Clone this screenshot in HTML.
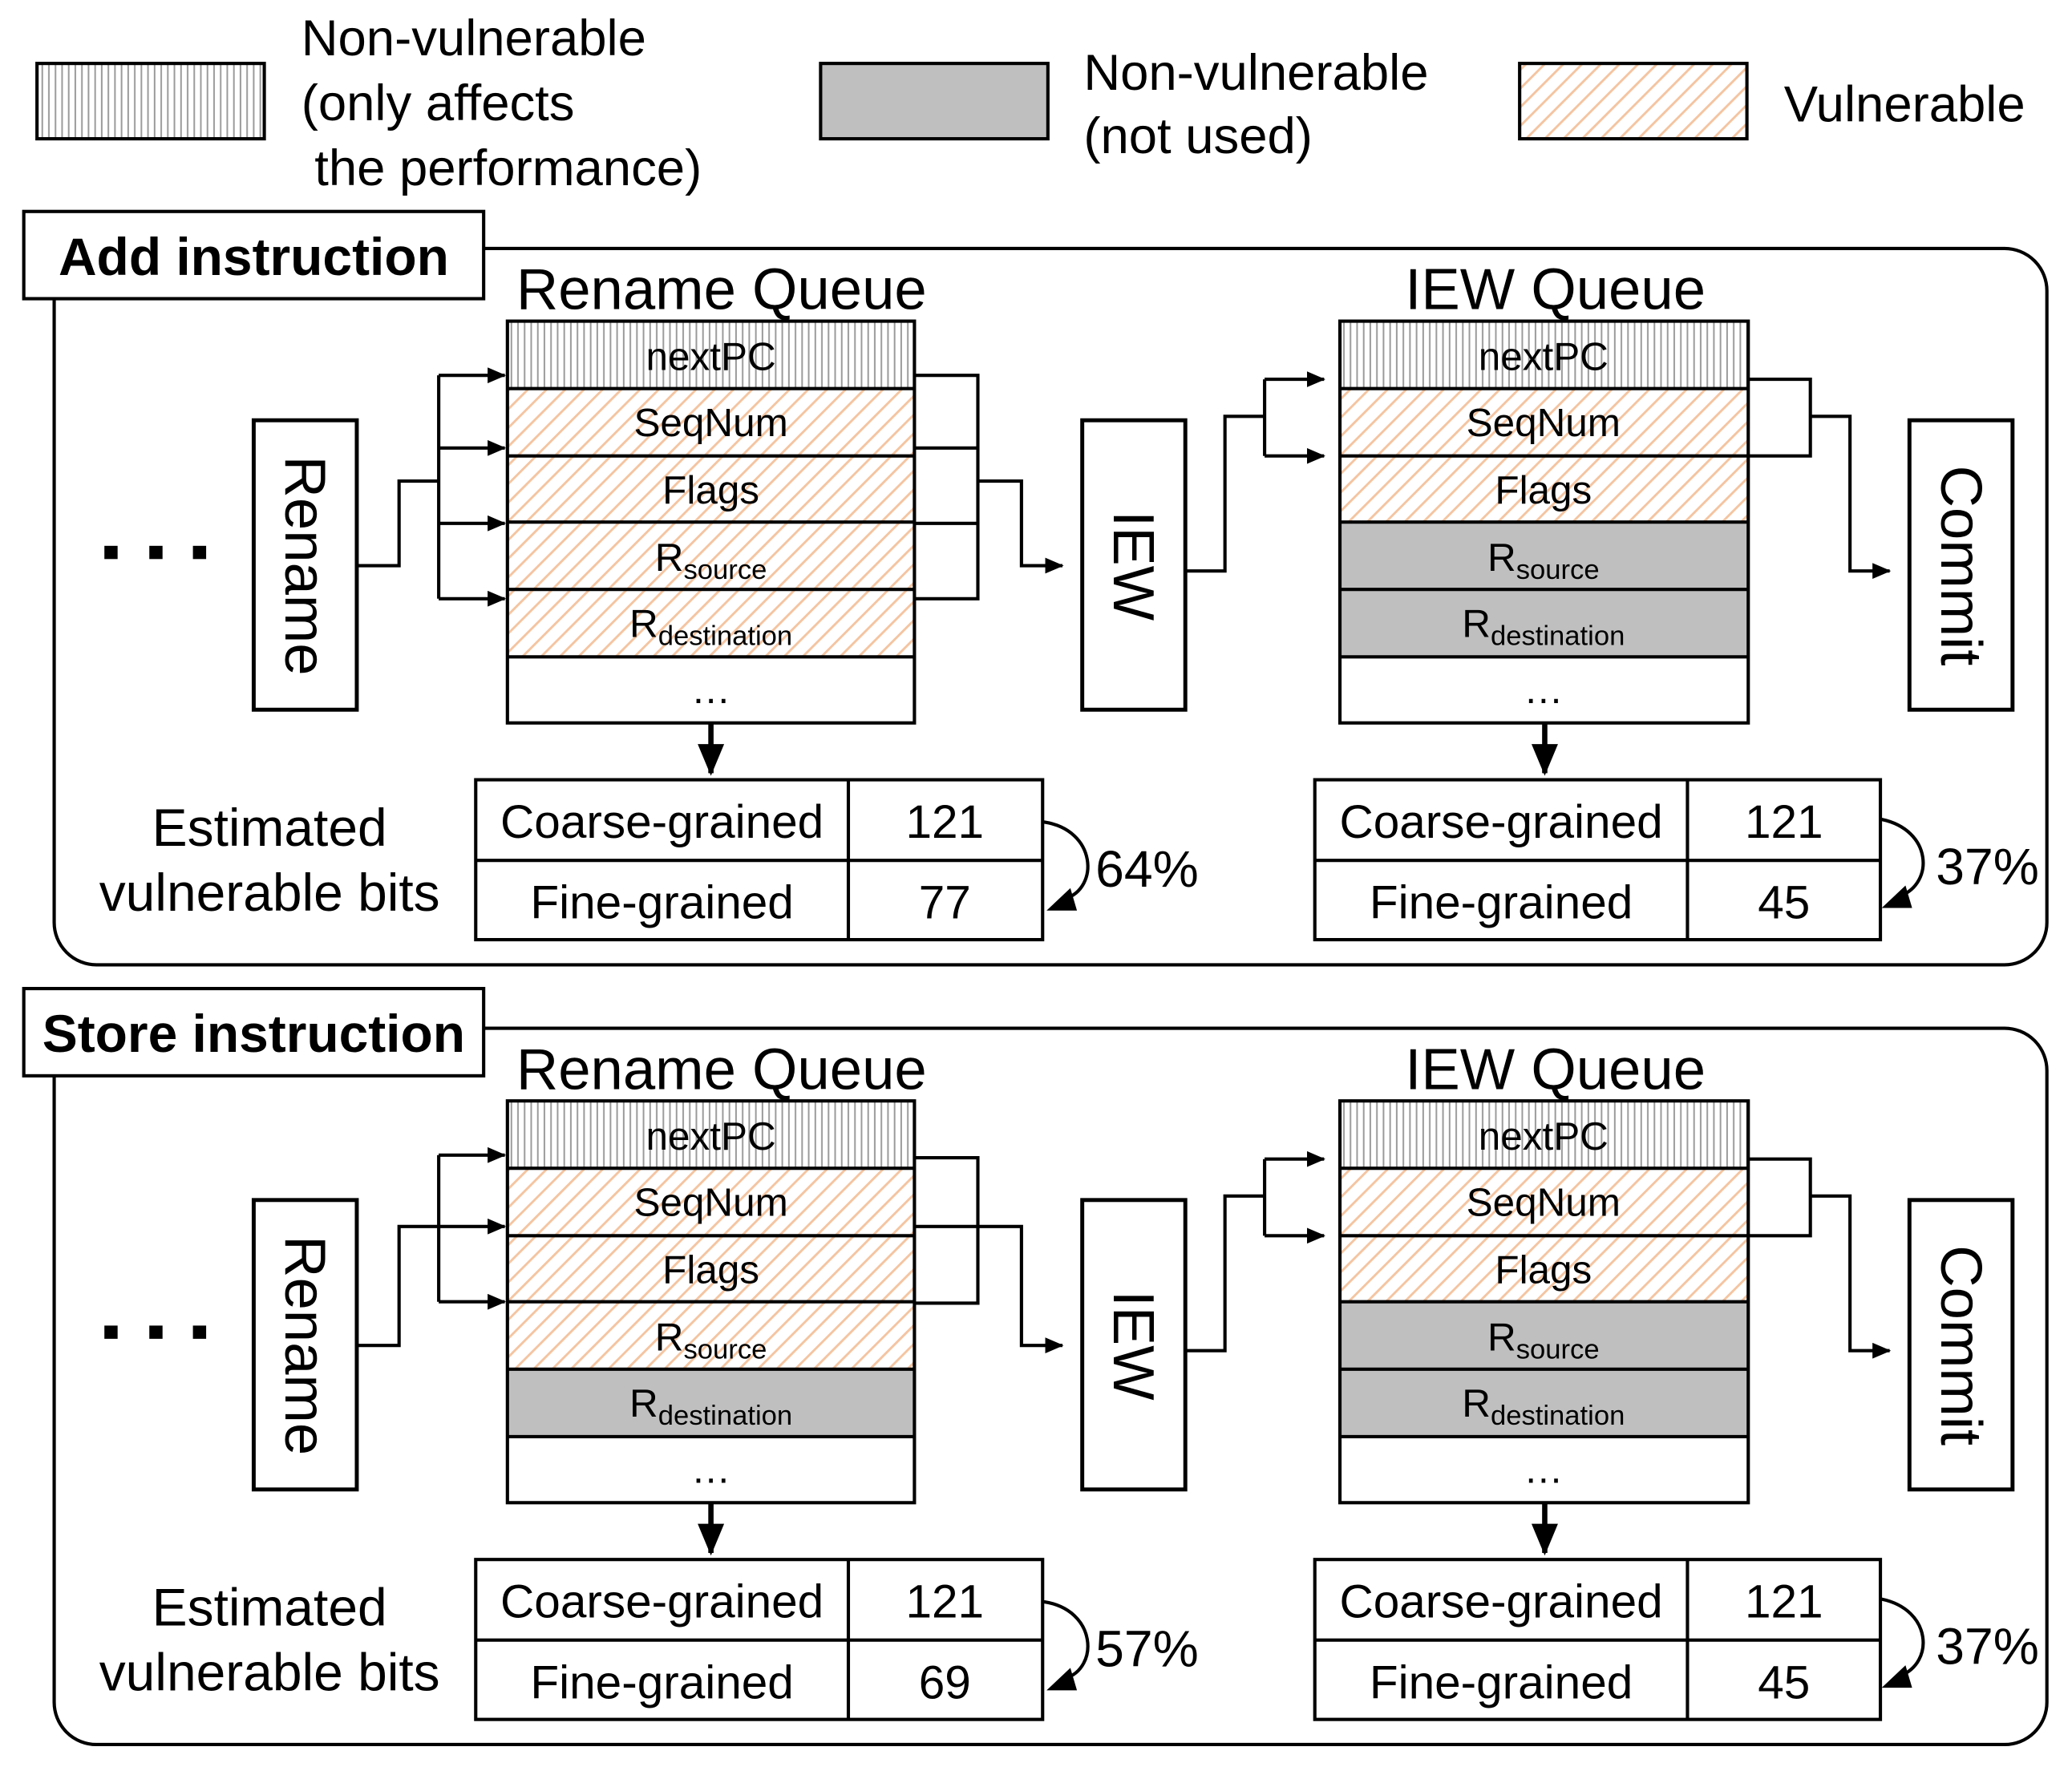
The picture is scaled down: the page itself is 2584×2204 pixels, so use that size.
<!DOCTYPE html>
<html><head><meta charset="utf-8"><style>
html,body{margin:0;padding:0;background:#fff}
svg{display:block}
text{font-family:"Liberation Sans",Arial,sans-serif;fill:#000}
</style></head><body>
<svg width="2584" height="2204" viewBox="0 0 1568 1337" preserveAspectRatio="none" xmlns="http://www.w3.org/2000/svg">
<defs>
<pattern id="vh" width="5" height="10" patternUnits="userSpaceOnUse"><rect width="5" height="10" fill="#fff"/><line x1="2" y1="0" x2="2" y2="10" stroke="#9a9a9a" stroke-width="1.2"/></pattern>
<pattern id="oh" width="10" height="10" patternUnits="userSpaceOnUse" patternTransform="rotate(45)"><rect width="10" height="10" fill="#fff"/><line x1="0" y1="0" x2="0" y2="10" stroke="#f4c4a0" stroke-width="3.5"/></pattern>
<marker id="ar" markerWidth="14" markerHeight="12" refX="13" refY="6" orient="auto" markerUnits="userSpaceOnUse"><path d="M0,0 L14,6 L0,12 z" fill="#000"/></marker>
</defs>

<!-- legend -->
<rect x="28" y="48" width="172" height="57" fill="url(#vh)" stroke="#000" stroke-width="2.5"/>
<text x="228" y="42" font-size="38.5">Non-vulnerable</text>
<text x="228" y="91" font-size="38.5">(only affects</text>
<text x="238" y="140" font-size="38.5">the performance)</text>
<rect x="621" y="48" width="172" height="57" fill="#bfbfbf" stroke="#000" stroke-width="2.5"/>
<text x="820" y="68" font-size="38.5">Non-vulnerable</text>
<text x="820" y="116" font-size="38.5">(not used)</text>
<rect x="1150" y="48" width="172" height="57" fill="url(#oh)" stroke="#000" stroke-width="2.5"/>
<text x="1350" y="92" font-size="38.5">Vulnerable</text>

<g id="p1">
<rect x="41" y="188" width="1508" height="542" rx="32" fill="none" stroke="#000" stroke-width="2.5"/>
<rect x="18" y="160" width="348" height="66" fill="#fff" stroke="#000" stroke-width="2.5"/>
<text x="192" y="208" font-size="40" font-weight="bold" text-anchor="middle">Add instruction</text>
<text x="546" y="234" font-size="44" text-anchor="middle">Rename Queue</text>
<text x="1177" y="234" font-size="44" text-anchor="middle">IEW Queue</text>
<rect x="384" y="243" width="308" height="51" fill="url(#vh)"/>
<rect x="384" y="294" width="308" height="203" fill="url(#oh)"/>
<rect x="384" y="243" width="308" height="304" fill="none" stroke="#000" stroke-width="2.5"/>
<g stroke="#000" stroke-width="2.5"><line x1="384" y1="294" x2="692" y2="294"/><line x1="384" y1="345" x2="692" y2="345"/><line x1="384" y1="395" x2="692" y2="395"/><line x1="384" y1="446" x2="692" y2="446"/><line x1="384" y1="497" x2="692" y2="497"/></g>
<g font-size="30" text-anchor="middle">
<text x="538" y="280">nextPC</text><text x="538" y="330">SeqNum</text><text x="538" y="381">Flags</text>
<text x="538" y="432">R<tspan font-size="21" dy="6">source</tspan></text>
<text x="538" y="482">R<tspan font-size="21" dy="6">destination</tspan></text>
<text x="538" y="532">…</text>
</g>
<rect x="1014" y="243" width="309" height="51" fill="url(#vh)"/>
<rect x="1014" y="294" width="309" height="101" fill="url(#oh)"/>
<rect x="1014" y="395" width="309" height="102" fill="#bfbfbf"/>
<rect x="1014" y="243" width="309" height="304" fill="none" stroke="#000" stroke-width="2.5"/>
<g stroke="#000" stroke-width="2.5"><line x1="1014" y1="294" x2="1323" y2="294"/><line x1="1014" y1="345" x2="1323" y2="345"/><line x1="1014" y1="395" x2="1323" y2="395"/><line x1="1014" y1="446" x2="1323" y2="446"/><line x1="1014" y1="497" x2="1323" y2="497"/></g>
<g font-size="30" text-anchor="middle">
<text x="1168" y="280">nextPC</text><text x="1168" y="330">SeqNum</text><text x="1168" y="381">Flags</text>
<text x="1168" y="432">R<tspan font-size="21" dy="6">source</tspan></text>
<text x="1168" y="482">R<tspan font-size="21" dy="6">destination</tspan></text>
<text x="1168" y="532">…</text>
</g>
<rect x="79" y="413" width="10" height="10"/><rect x="113" y="413" width="10" height="10"/><rect x="146" y="413" width="10" height="10"/>
<rect x="192" y="318" width="78" height="219" fill="#fff" stroke="#000" stroke-width="3"/>
<text transform="translate(216,428) rotate(90)" font-size="44" text-anchor="middle">Rename</text>
<rect x="819" y="318" width="78" height="219" fill="#fff" stroke="#000" stroke-width="3"/>
<text transform="translate(843,428) rotate(90)" font-size="44" text-anchor="middle">IEW</text>
<rect x="1445" y="318" width="78" height="219" fill="#fff" stroke="#000" stroke-width="3"/>
<text transform="translate(1469,428) rotate(90)" font-size="44" text-anchor="middle">Commit</text>
<g fill="none" stroke="#000" stroke-width="2.5">
<polyline points="270,428 302,428 302,364 332,364"/>
<line x1="332" y1="284" x2="332" y2="453"/>
<line x1="332" y1="284" x2="382" y2="284" marker-end="url(#ar)"/>
<line x1="332" y1="339" x2="382" y2="339" marker-end="url(#ar)"/>
<line x1="332" y1="396" x2="382" y2="396" marker-end="url(#ar)"/>
<line x1="332" y1="453" x2="382" y2="453" marker-end="url(#ar)"/>
<polyline points="692,284 740,284 740,453 692,453"/>
<line x1="692" y1="339" x2="740" y2="339"/>
<line x1="692" y1="396" x2="740" y2="396"/>
<polyline points="740,364 773,364 773,428 804,428" marker-end="url(#ar)"/>
<polyline points="897,432 927,432 927,315 957,315"/>
<line x1="957" y1="287" x2="957" y2="345"/>
<line x1="957" y1="287" x2="1002" y2="287" marker-end="url(#ar)"/>
<line x1="957" y1="345" x2="1002" y2="345" marker-end="url(#ar)"/>
<polyline points="1323,287 1370,287 1370,345 1323,345"/>
<polyline points="1370,315 1400,315 1400,432 1430,432" marker-end="url(#ar)"/>
</g>
<line x1="538" y1="547" x2="538" y2="585" stroke="#000" stroke-width="4"/>
<path d="M528,563 L548,563 L538,587 z"/>
<line x1="1169" y1="547" x2="1169" y2="585" stroke="#000" stroke-width="4"/>
<path d="M1159,563 L1179,563 L1169,587 z"/>
<g fill="none" stroke="#000" stroke-width="2.5">
<rect x="360" y="590" width="429" height="121"/><line x1="642" y1="590" x2="642" y2="711"/><line x1="360" y1="651" x2="789" y2="651"/>
<rect x="995" y="590" width="428" height="121"/><line x1="1277" y1="590" x2="1277" y2="711"/><line x1="995" y1="651" x2="1423" y2="651"/>
<path d="M790,622 C830,628 832,672 806,680"/>
<path d="M1424,620 C1462,628 1464,668 1438,678"/>
</g>
<path d="M810,672 L792,689 L815,689 z"/>
<path d="M1442,670 L1424,687 L1447,687 z"/>
<g font-size="35.5" text-anchor="middle">
<text x="501" y="634">Coarse-grained</text><text x="715" y="634">121</text>
<text x="501" y="695">Fine-grained</text><text x="715" y="695">77</text>
<text x="1136" y="634">Coarse-grained</text><text x="1350" y="634">121</text>
<text x="1136" y="695">Fine-grained</text><text x="1350" y="695">45</text>
</g>
<g font-size="40" text-anchor="middle">
<text x="204" y="640">Estimated</text><text x="204" y="689">vulnerable bits</text>
</g>
<text x="829" y="671" font-size="39">64%</text>
<text x="1465" y="669" font-size="39">37%</text>
</g>

<g id="p2" transform="translate(0,590)">
<rect x="41" y="188" width="1508" height="542" rx="32" fill="none" stroke="#000" stroke-width="2.5"/>
<rect x="18" y="158" width="348" height="66" fill="#fff" stroke="#000" stroke-width="2.5"/>
<text x="192" y="206" font-size="40" font-weight="bold" text-anchor="middle">Store instruction</text>
<text x="546" y="234" font-size="44" text-anchor="middle">Rename Queue</text>
<text x="1177" y="234" font-size="44" text-anchor="middle">IEW Queue</text>
<rect x="384" y="243" width="308" height="51" fill="url(#vh)"/>
<rect x="384" y="294" width="308" height="152" fill="url(#oh)"/>
<rect x="384" y="446" width="308" height="51" fill="#bfbfbf"/>
<rect x="384" y="243" width="308" height="304" fill="none" stroke="#000" stroke-width="2.5"/>
<g stroke="#000" stroke-width="2.5"><line x1="384" y1="294" x2="692" y2="294"/><line x1="384" y1="345" x2="692" y2="345"/><line x1="384" y1="395" x2="692" y2="395"/><line x1="384" y1="446" x2="692" y2="446"/><line x1="384" y1="497" x2="692" y2="497"/></g>
<g font-size="30" text-anchor="middle">
<text x="538" y="280">nextPC</text><text x="538" y="330">SeqNum</text><text x="538" y="381">Flags</text>
<text x="538" y="432">R<tspan font-size="21" dy="6">source</tspan></text>
<text x="538" y="482">R<tspan font-size="21" dy="6">destination</tspan></text>
<text x="538" y="532">…</text>
</g>
<rect x="1014" y="243" width="309" height="51" fill="url(#vh)"/>
<rect x="1014" y="294" width="309" height="101" fill="url(#oh)"/>
<rect x="1014" y="395" width="309" height="102" fill="#bfbfbf"/>
<rect x="1014" y="243" width="309" height="304" fill="none" stroke="#000" stroke-width="2.5"/>
<g stroke="#000" stroke-width="2.5"><line x1="1014" y1="294" x2="1323" y2="294"/><line x1="1014" y1="345" x2="1323" y2="345"/><line x1="1014" y1="395" x2="1323" y2="395"/><line x1="1014" y1="446" x2="1323" y2="446"/><line x1="1014" y1="497" x2="1323" y2="497"/></g>
<g font-size="30" text-anchor="middle">
<text x="1168" y="280">nextPC</text><text x="1168" y="330">SeqNum</text><text x="1168" y="381">Flags</text>
<text x="1168" y="432">R<tspan font-size="21" dy="6">source</tspan></text>
<text x="1168" y="482">R<tspan font-size="21" dy="6">destination</tspan></text>
<text x="1168" y="532">…</text>
</g>
<rect x="79" y="413" width="10" height="10"/><rect x="113" y="413" width="10" height="10"/><rect x="146" y="413" width="10" height="10"/>
<rect x="192" y="318" width="78" height="219" fill="#fff" stroke="#000" stroke-width="3"/>
<text transform="translate(216,428) rotate(90)" font-size="44" text-anchor="middle">Rename</text>
<rect x="819" y="318" width="78" height="219" fill="#fff" stroke="#000" stroke-width="3"/>
<text transform="translate(843,428) rotate(90)" font-size="44" text-anchor="middle">IEW</text>
<rect x="1445" y="318" width="78" height="219" fill="#fff" stroke="#000" stroke-width="3"/>
<text transform="translate(1469,428) rotate(90)" font-size="44" text-anchor="middle">Commit</text>
<g fill="none" stroke="#000" stroke-width="2.5">
<polyline points="270,428 302,428 302,338 332,338"/>
<line x1="332" y1="284" x2="332" y2="395"/>
<line x1="332" y1="284" x2="382" y2="284" marker-end="url(#ar)"/>
<line x1="332" y1="338" x2="382" y2="338" marker-end="url(#ar)"/>
<line x1="332" y1="395" x2="382" y2="395" marker-end="url(#ar)"/>
<polyline points="692,286 740,286 740,396 692,396"/>
<line x1="692" y1="338" x2="740" y2="338"/>
<polyline points="740,338 773,338 773,428 804,428" marker-end="url(#ar)"/>
<polyline points="897,432 927,432 927,315 957,315"/>
<line x1="957" y1="287" x2="957" y2="345"/>
<line x1="957" y1="287" x2="1002" y2="287" marker-end="url(#ar)"/>
<line x1="957" y1="345" x2="1002" y2="345" marker-end="url(#ar)"/>
<polyline points="1323,287 1370,287 1370,345 1323,345"/>
<polyline points="1370,315 1400,315 1400,432 1430,432" marker-end="url(#ar)"/>
</g>
<line x1="538" y1="547" x2="538" y2="585" stroke="#000" stroke-width="4"/>
<path d="M528,563 L548,563 L538,587 z"/>
<line x1="1169" y1="547" x2="1169" y2="585" stroke="#000" stroke-width="4"/>
<path d="M1159,563 L1179,563 L1169,587 z"/>
<g fill="none" stroke="#000" stroke-width="2.5">
<rect x="360" y="590" width="429" height="121"/><line x1="642" y1="590" x2="642" y2="711"/><line x1="360" y1="651" x2="789" y2="651"/>
<rect x="995" y="590" width="428" height="121"/><line x1="1277" y1="590" x2="1277" y2="711"/><line x1="995" y1="651" x2="1423" y2="651"/>
<path d="M790,622 C830,628 832,672 806,680"/>
<path d="M1424,620 C1462,628 1464,668 1438,678"/>
</g>
<path d="M810,672 L792,689 L815,689 z"/>
<path d="M1442,670 L1424,687 L1447,687 z"/>
<g font-size="35.5" text-anchor="middle">
<text x="501" y="634">Coarse-grained</text><text x="715" y="634">121</text>
<text x="501" y="695">Fine-grained</text><text x="715" y="695">69</text>
<text x="1136" y="634">Coarse-grained</text><text x="1350" y="634">121</text>
<text x="1136" y="695">Fine-grained</text><text x="1350" y="695">45</text>
</g>
<g font-size="40" text-anchor="middle">
<text x="204" y="640">Estimated</text><text x="204" y="689">vulnerable bits</text>
</g>
<text x="829" y="671" font-size="39">57%</text>
<text x="1465" y="669" font-size="39">37%</text>
</g>
</svg>
</body></html>
